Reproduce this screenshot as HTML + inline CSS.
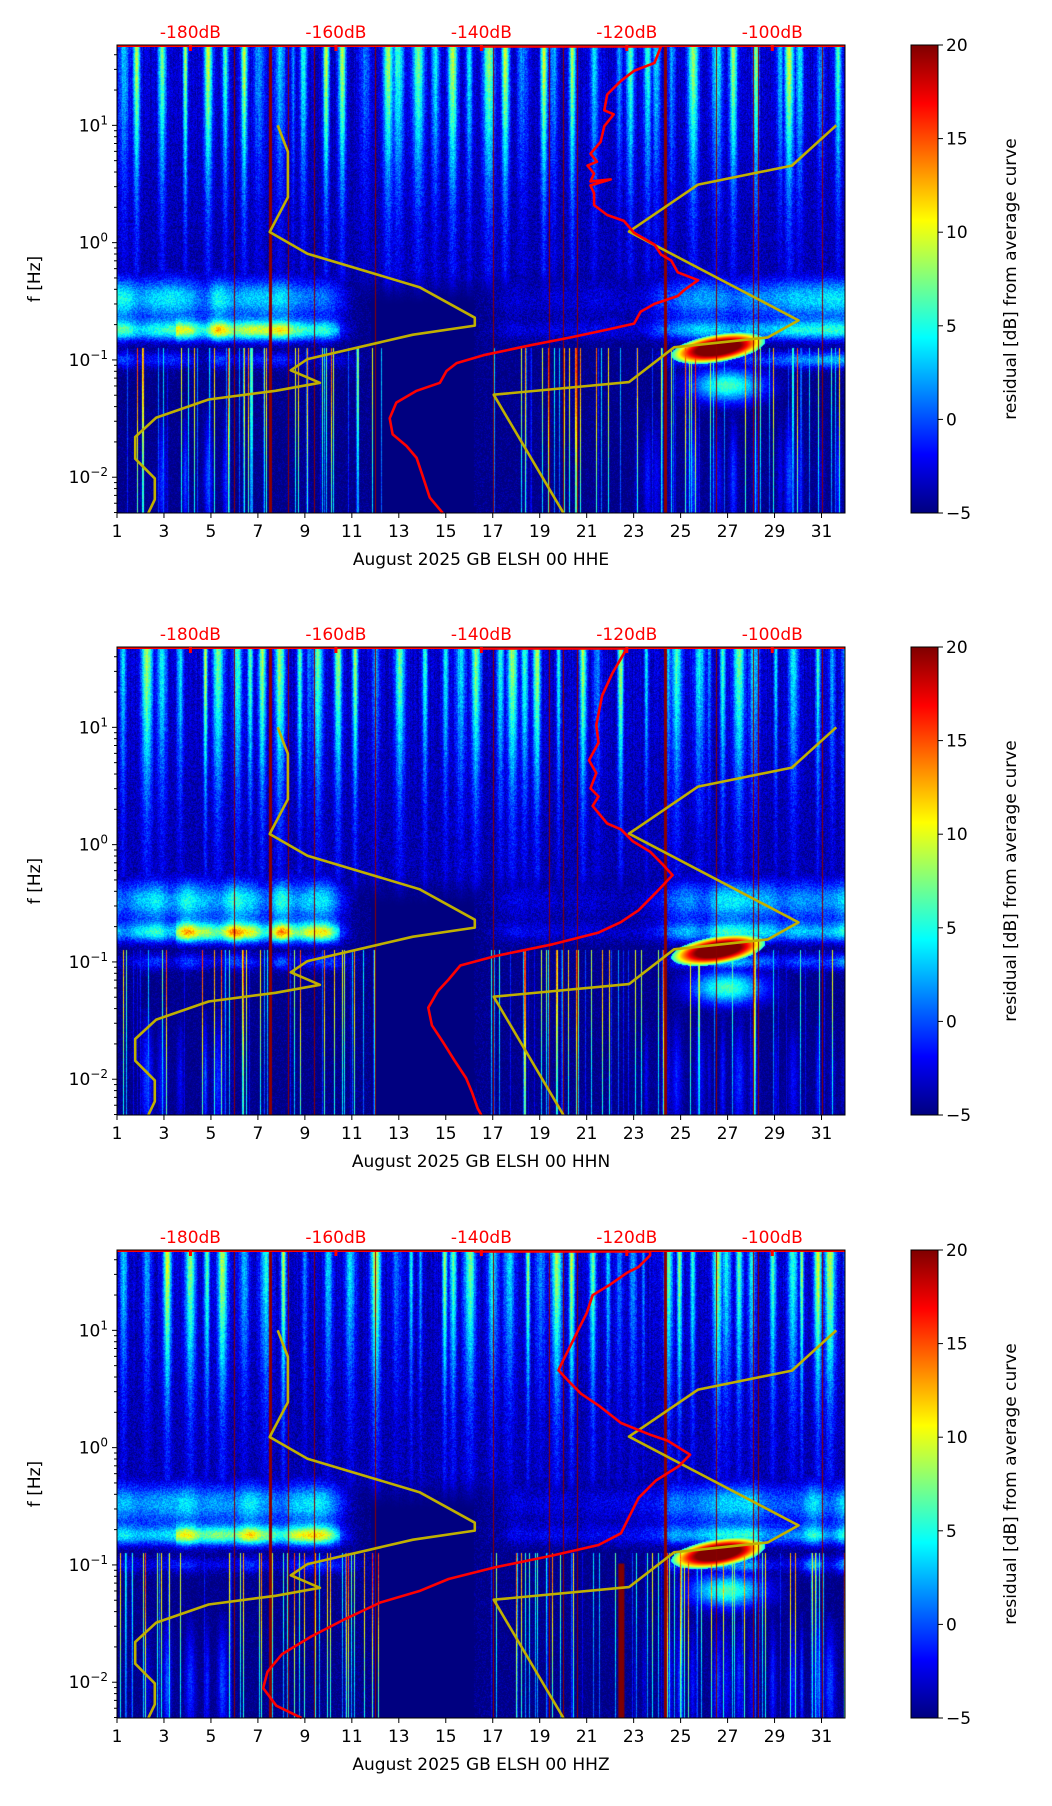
<!DOCTYPE html>
<html><head><meta charset="utf-8">
<style>
html,body{margin:0;padding:0;background:#fff;}
#wrap{position:relative;width:1052px;height:1806px;overflow:hidden;font-family:"DejaVu Sans","Liberation Sans",sans-serif;}
canvas{position:absolute;}
svg{position:absolute;left:0;top:0;}
</style></head>
<body>
<div id="wrap">
<canvas id="c0" width="728" height="468" style="left:117px;top:45px"></canvas>
<canvas id="c1" width="728" height="468" style="left:117px;top:647px"></canvas>
<canvas id="c2" width="728" height="468" style="left:117px;top:1250px"></canvas>
<svg id="svg" width="1052" height="1806">
<defs>
<linearGradient id="jet" x1="0" y1="1" x2="0" y2="0">
<stop offset="0" stop-color="#00007f"/><stop offset="0.125" stop-color="#0000ff"/>
<stop offset="0.375" stop-color="#00ffff"/><stop offset="0.625" stop-color="#ffff00"/>
<stop offset="0.875" stop-color="#ff0000"/><stop offset="1" stop-color="#7f0000"/>
</linearGradient>
</defs>
</svg>
</div>
<script>
// ---- data ----
const panelTitles = ["August 2025 GB ELSH 00 HHE","August 2025 GB ELSH 00 HHN","August 2025 GB ELSH 00 HHZ"];
const dayTicks = [1,3,5,7,9,11,13,15,17,19,21,23,25,27,29,31];
const freqTickExp = [1,0,-1,-2];
const dbTicks = [-180,-160,-140,-120,-100];
const cbTicks = [20,15,10,5,0,-5];
const gapDays = [6.0,7.47,8.3,9.4,12.0,17.0,19.4,20.0,20.6,24.3,26.5,28.1,28.3,31.0];
// NLNM (yellow, left) dB and log10(f)
const nlnmDb = [-168.0,-166.6,-166.6,-169.1,-163.9,-148.5,-140.9,-140.9,-149.4,-163.9,-166.2,-162.2,-168.3,-177.5,-184.7,-187.6,-187.6,-184.9,-184.9,-185.8];
const nlnmLf = [1.0,0.774,0.387,0.091,-0.094,-0.380,-0.640,-0.707,-0.785,-0.993,-1.088,-1.195,-1.263,-1.337,-1.492,-1.657,-1.842,-2.010,-2.189,-2.306];
// NHNM (yellow, right)
const nhnmDb = [-91.2,-97.3,-110.2,-119.7,-96.4,-100.6,-113.5,-119.7,-138.3,-128.7];
const nhnmLf = [1.0,0.657,0.495,0.094,-0.663,-0.808,-0.892,-1.189,-1.296,-2.306];
// mean PSD curves (red)
const psdDbE = [-140.0,-115.3,-116.2,-119.0,-120.8,-122.7,-123.1,-121.8,-123.1,-123.6,-125.0,-124.1,-125.4,-124.5,-125.0,-122.2,-125.0,-124.5,-124.5,-122.7,-120.4,-119.0,-116.2,-115.3,-113.9,-113.0,-110.2,-112.1,-113.0,-116.2,-118.1,-119.0,-122.7,-127.7,-133.3,-139.7,-143.4,-144.8,-145.7,-148.9,-151.7,-152.6,-152.2,-150.3,-148.9,-148.0,-147.1,-145.3];
const psdLfE = [1.672,1.672,1.532,1.465,1.380,1.263,1.128,1.094,0.993,0.859,0.758,0.690,0.657,0.589,0.522,0.539,0.488,0.421,0.320,0.236,0.185,0.084,-0.017,-0.101,-0.152,-0.253,-0.320,-0.404,-0.455,-0.522,-0.589,-0.690,-0.741,-0.808,-0.875,-0.960,-1.027,-1.094,-1.195,-1.263,-1.364,-1.498,-1.633,-1.734,-1.835,-2.003,-2.172,-2.306];
const psdDbN = [-140.0,-120.0,-120.4,-122.0,-123.4,-124.2,-123.9,-125.2,-124.2,-125.0,-123.9,-124.7,-122.7,-120.8,-119.2,-116.8,-115.2,-113.7,-116.0,-118.4,-120.8,-123.9,-130.2,-138.1,-142.9,-144.5,-146.0,-147.3,-146.8,-145.2,-143.7,-142.1,-141.3,-140.5,-140.0];
const psdLfN = [1.672,1.672,1.63,1.46,1.27,1.02,0.87,0.72,0.61,0.48,0.41,0.33,0.18,0.13,0.03,-0.06,-0.16,-0.26,-0.41,-0.56,-0.66,-0.75,-0.85,-0.95,-1.03,-1.15,-1.25,-1.39,-1.54,-1.69,-1.84,-1.99,-2.11,-2.25,-2.306];
const psdDbZ = [-141.0,-116.8,-116.8,-118.4,-120.0,-122.3,-124.7,-125.5,-127.1,-128.7,-129.4,-127.9,-126.3,-123.9,-120.8,-116.8,-114.4,-111.3,-112.9,-116.0,-118.4,-120.0,-120.8,-123.9,-130.2,-138.1,-144.5,-148.4,-153.9,-158.7,-163.4,-167.4,-169.4,-170.0,-168.2,-164.7];
const psdLfZ = [1.672,1.672,1.64,1.54,1.49,1.39,1.30,1.15,0.95,0.75,0.66,0.56,0.46,0.36,0.21,0.11,0.06,-0.06,-0.16,-0.28,-0.43,-0.63,-0.73,-0.83,-0.92,-1.02,-1.12,-1.22,-1.32,-1.46,-1.61,-1.76,-1.91,-2.05,-2.20,-2.306];
const psdDb = [psdDbE, psdDbN, psdDbZ];
const psdLf = [psdLfE, psdLfN, psdLfZ];

// ---- geometry ----
const PL=117, PW=728, PH=468, TOPS=[45,647,1250];
const dayMin=1, dayMax=32, lfMax=1.685, lfMin=-2.305, dbMin=-190.1, dbMax=-90.0;
const CBX=911, CBW=27, cbMin=-5, cbMax=20;
function xDay(d){return PL+(d-dayMin)/(dayMax-dayMin)*PW;}
function xDb(v){return PL+(v-dbMin)/(dbMax-dbMin)*PW;}
function yLf(top,lf){return top+(lfMax-lf)/(lfMax-lfMin)*PH;}
function yCb(top,v){return top+(cbMax-v)/(cbMax-cbMin)*PH;}

// ---- spectrogram texture ----
function hash(i,j){let h=(i*374761393+j*668265263)|0;h=Math.imul(h^(h>>>13),1274126177);h=h^(h>>>16);return (h>>>0)/4294967296;}
function jet(t){t=Math.max(0,Math.min(1,t));const c=v=>Math.max(0,Math.min(1,v));return [c(1.5-Math.abs(4*t-3))*255,c(1.5-Math.abs(4*t-2))*255,c(1.5-Math.abs(4*t-1))*255];}
function gauss(x,s){return Math.exp(-x*x/(2*s*s));}
function ss(a,b,x){const t=Math.max(0,Math.min(1,(x-a)/(b-a)));return t*t*(3-2*t);}
function smoothNoise(x,seed){const i=Math.floor(x),f=x-i;const a=hash(i,seed),b=hash(i+1,seed);const u=f*f*(3-2*f);return a+(b-a)*u;}
function drawSpec(idx){
  const cv=document.getElementById('c'+idx),ctx=cv.getContext('2d');
  const img=ctx.createImageData(PW,PH),D=img.data;
  const seed=idx*977+1;
  const colStreak=new Float32Array(PW),colLine=new Float32Array(PW),colLineV=new Float32Array(PW),colPatch=new Float32Array(PW);
  const centres=[];let d0=1.1+hash(seed,1)*0.3;
  while(d0<32.5){centres.push([d0,0.05+0.12*hash(Math.floor(d0*10),seed+7),0.3+0.7*hash(Math.floor(d0*10),seed+9)]);d0+=0.35+0.75*hash(Math.floor(d0*100),seed+2);}
  for(let x=0;x<PW;x++){
    const d=dayMin+(x+0.5)/PW*(dayMax-dayMin);
    let s=0;for(const c of centres){const w=gauss(d-c[0],c[1])*c[2];if(w>s)s=w;}
    colStreak[x]=s+0.12*hash(x,seed+5);
    const inLow=(d<12.3)||(d>16.8);
    colLine[x]=(inLow&&hash(x,seed+11)>0.84)?1:0;
    colLineV[x]=hash(x,seed+13);
    colPatch[x]=smoothNoise(d*1.5,seed+21);
  }
  for(let y=0;y<PH;y++){
    const lf=lfMax-(y+0.5)/PH*(lfMax-lfMin);
    const k=ss(-0.4,1.7,lf);
    const hfMask=ss(-0.55,-0.2,lf);
    for(let x=0;x<PW;x++){
      const d=dayMin+(x+0.5)/PW*(dayMax-dayMin);
      const n=hash(x+seed,y)-0.5;
      let v=-5;
      v=Math.max(v,-5+hfMask*(1.0+colStreak[x]*(2.5+11*Math.pow(k,1.3)))+n*3*hfMask);
      const A=7.5*(1-ss(9.5,11.5,d))+1.8*ss(16,18,d)*(1-ss(23,24.5,d))+6.5*ss(23,25,d);
      if(A>0.05){
        const patch=0.65+0.6*colPatch[x];
        const lowPart=(d>3.5&&d<10.5)?1.25:0.8;
        const bump=0.75*gauss(lf+0.48,0.13)+lowPart*gauss(lf+0.75,0.06);
        v=Math.max(v,-5+A*1.5*bump*patch+n*3);
      }
      const B=2.0*(1-ss(10,12,d))+3*ss(23.5,25,d);
      if(B>0.05){v=Math.max(v,-5+B*2*gauss(lf+1.0,0.05)*(0.3+1.0*colPatch[x])+n*3);}
      // red blob
      const bx=(d-26.6)/1.0, by=(lf+0.9-(d-26.6)*0.03)/0.06;
      const r=bx*bx+by*by;
      if(r<4){v=Math.max(v,21-5*Math.max(0,r-0.7));}
      if(d>27&&d<29){v=Math.max(v,-5+19*gauss(lf+0.83,0.035)*(1-ss(27,29,d))+n*2);}
      if(d>24.5&&d<30&&lf<-1.0&&lf>-1.5){v=Math.max(v,-5+11*gauss(lf+1.22,0.1)*gauss(d-27,1.1)+n*2);}
      if(colLine[x]&&lf<-0.9){
        const lv=colLineV[x];
        v=Math.max(v,-3+lv*19*(0.5+0.5*ss(-2.3,-1.0,lf))+n*2);
      }
      if(lf<-1.4&&((d>2&&d<6)||(d>23&&d<32))){v=Math.max(v,-5+5*colStreak[x]*gauss(lf+2.0,0.35)+n*2);}
      const c=jet((v-cbMin)/(cbMax-cbMin));
      const p=(y*PW+x)*4;D[p]=c[0];D[p+1]=c[1];D[p+2]=c[2];D[p+3]=255;
    }
  }
  ctx.putImageData(img,0,0);
  ctx.fillStyle='#8b0000';
  for(const g of gapDays){
    const gx=xDay(g)-PL;
    const w=(g===7.47||g===24.3)?3:1;
    ctx.fillRect(Math.round(gx),0,w,PH);
  }
  if(idx===2){ctx.fillStyle='#800000';const gx=xDay(22.35)-PL;ctx.fillRect(gx,PH*0.67,6,PH*0.33);}
}
[0,1,2].forEach(drawSpec);

// ---- SVG overlay ----
const NS='http://www.w3.org/2000/svg';
const svg=document.getElementById('svg');
function mk(tag,attrs,parent){const e=document.createElementNS(NS,tag);for(const k in attrs)e.setAttribute(k,attrs[k]);(parent||svg).appendChild(e);return e;}

for(let p=0;p<3;p++){
  const top=TOPS[p];
  const g=mk('g',{});
  
  
  const ptsL=nlnmDb.map((v,i)=>xDb(v).toFixed(1)+','+yLf(top,nlnmLf[i]).toFixed(1)).join(' ');
  const nl=mk('polyline',{points:ptsL,fill:'none',stroke:'#c0b000','stroke-width':2.6,'stroke-linejoin':'round'},g);
  
  
  const ptsH=nhnmDb.map((v,i)=>xDb(v).toFixed(1)+','+yLf(top,nhnmLf[i]).toFixed(1)).join(' ');
  const nh=mk('polyline',{points:ptsH,fill:'none',stroke:'#c0b000','stroke-width':2.6,'stroke-linejoin':'round'},g);
  
  
  const ptsR=psdDb[p].map((v,i)=>xDb(v).toFixed(1)+','+Math.max(top+1.5,yLf(top,psdLf[p][i])).toFixed(1)).join(' ');
  const rc=mk('polyline',{points:ptsR,fill:'none',stroke:'#ff0000','stroke-width':2.6,'stroke-linejoin':'round'},g);
  
  
  const tl=mk('line',{x1:PL,x2:PL+PW,y1:top+1,y2:top+1,stroke:'#ff0000','stroke-width':2},g);
  
  
  const fr=mk('rect',{x:PL,y:top,width:PW,height:PH,fill:'none',stroke:'#000','stroke-width':1},g);
  
  
  for(const d of dayTicks){
    const x=xDay(d);
    mk('line',{x1:x,x2:x,y1:top+PH,y2:top+PH+5,stroke:'#000','stroke-width':1},g);
    const t=mk('text',{x:x,y:top+PH+24,'text-anchor':'middle','font-size':17,fill:'#000'},g);
    t.textContent=d;
    
    
  }
  const xl=mk('text',{x:PL+PW/2,y:top+PH+52,'text-anchor':'middle','font-size':17,fill:'#000'},g);
  xl.textContent=panelTitles[p];
  
  
  for(const v of dbTicks){
    const x=xDb(v);
    mk('rect',{x:x-1.5,y:top,width:3,height:6,fill:'#ff0000'},g);
    const t=mk('text',{x:x,y:top-7,'text-anchor':'middle','font-size':17,fill:'#ff0000'},g);
    t.textContent=v+'dB';
    
    
  }
  for(let e=-3;e<=1;e++){
    for(let m=1;m<=9;m++){
      const lf=e+Math.log10(m);
      if(lf<lfMin||lf>lfMax)continue;
      const y=yLf(top,lf);
      mk('line',{x1:PL-(m===1?5:3),x2:PL,y1:y,y2:y,stroke:'#000','stroke-width':1},g);
    }
  }
  for(const e of freqTickExp){
    const y=yLf(top,e);
    const t=mk('text',{x:PL-9,y:y+6,'text-anchor':'end','font-size':17,fill:'#000'},g);
    
    
    const a=document.createElementNS(NS,'tspan');a.textContent='10';t.appendChild(a);
    const b=document.createElementNS(NS,'tspan');b.setAttribute('dy','-7');b.setAttribute('font-size','12');b.textContent=(e<0?'\u2212':'')+Math.abs(e);t.appendChild(b);
  }
  const yl=mk('text',{x:0,y:0,'text-anchor':'middle','font-size':17,fill:'#000',transform:'translate(40,'+(top+PH/2)+') rotate(-90)'},g);
  yl.textContent='f [Hz]';
  
  
  const cb=mk('rect',{x:CBX,y:top,width:CBW,height:PH,fill:'url(#jet)',stroke:'#000','stroke-width':1},g);
  
  
  for(const v of cbTicks){
    const y=yCb(top,v);
    mk('line',{x1:CBX+CBW,x2:CBX+CBW+5,y1:y,y2:y,stroke:'#000','stroke-width':1},g);
    const t=mk('text',{x:CBX+CBW+8,y:y+6,'font-size':17,fill:'#000'},g);
    t.textContent=(v<0?'\u2212':'')+Math.abs(v);
    
    
  }
  const cl=mk('text',{x:0,y:0,'text-anchor':'middle','font-size':17,fill:'#000',transform:'translate(1016,'+(top+PH/2)+') rotate(-90)'},g);
  cl.textContent='residual [dB] from average curve';
  
  
}
</script>
</body></html>
